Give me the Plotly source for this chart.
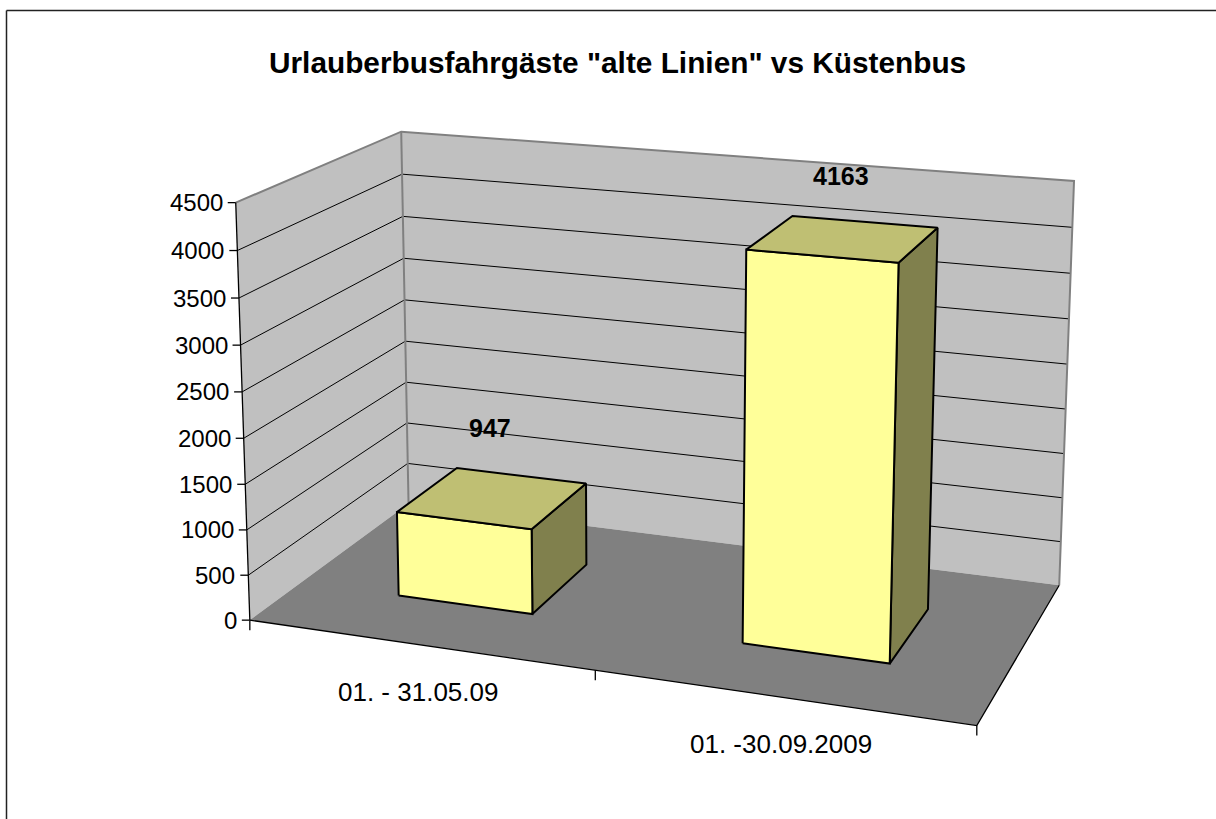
import numpy as np
import plotly.graph_objects as go

# ---------------- data ----------------
title = 'Urlauberbusfahrgäste "alte Linien" vs Küstenbus'
categories = ["01. - 31.05.09", "01. -30.09.2009"]
values = [947, 4163]
y_ticks = [0, 500, 1000, 1500, 2000, 2500, 3000, 3500, 4000, 4500]
y_max = 4500

# ---------------- style / layout ----------------
W, H = 1216, 819
FONT = "Liberation Sans, Arial, sans-serif"
WALL = "#C0C0C0"
FLOOR = "#808080"
EDGE = "#808080"
FRONT = "#FFFF99"
TOP = "#BFBF73"
SIDE = "#80804D"
GAP_WIDTH = 1.5     # Excel gap width 150 %
GAP_DEPTH = 1.5     # Excel gap depth 150 %

# camera calibration: corners of the 3-D plot box (x: category axis 0..1,
# v: value 0..1, z: depth 0 front .. 1 back) and where they appear on the page
frame_3d = np.array([
    (0, 0, 0), (0, 1, 0), (0, 0, 1), (0, 1, 1),
    (1, 0, 1), (1, 1, 1), (1, 0, 0), (0.5, 0, 0),
    (0, 8 / 9, 1), (1, 8 / 9, 1),
], dtype=float)
frame_px = np.array([
    (249, 617.7), (236, 203.3), (409, 505), (401, 132),
    (1059, 584.3), (1074.3, 180), (976.7, 725.7), (596, 672),
    (402, 173.3), (1072, 228.3),
], dtype=float)


def fit_camera(p3, p2):
    m = p2.mean(0)
    s = np.sqrt(2) / np.mean(np.linalg.norm(p2 - m, axis=1))
    T = np.array([[s, 0, -s * m[0]], [0, s, -s * m[1]], [0, 0, 1]])
    q = (p2 - m) * s
    A = []
    for (X, Y, Z), (u, v) in zip(p3, q):
        A.append([X, Y, Z, 1, 0, 0, 0, 0, -u * X, -u * Y, -u * Z, -u])
        A.append([0, 0, 0, 0, X, Y, Z, 1, -v * X, -v * Y, -v * Z, -v])
    _, _, Vt = np.linalg.svd(np.array(A))
    return np.linalg.inv(T) @ Vt[-1].reshape(3, 4)


P = fit_camera(frame_3d, frame_px)


def proj(x, val, z):
    h = P @ np.array([x, val / y_max, z, 1.0])
    return h[0] / h[2], h[1] / h[2]


def poly(pts, fill, line_color="rgba(0,0,0,0)", lw=0):
    xy = [proj(*p) for p in pts]
    xs = [a for a, _ in xy] + [xy[0][0]]
    ys = [b for _, b in xy] + [xy[0][1]]
    return go.Scatter(x=xs, y=ys, mode="lines", fill="toself", fillcolor=fill,
                      line=dict(color=line_color, width=lw),
                      hoverinfo="skip", showlegend=False)


def polyline(segments, color, lw):
    xs, ys = [], []
    for seg in segments:
        for p in seg:
            a, b = p if len(p) == 2 else proj(*p)
            xs.append(a)
            ys.append(b)
        xs.append(None)
        ys.append(None)
    return go.Scatter(x=xs, y=ys, mode="lines", line=dict(color=color, width=lw),
                      hoverinfo="skip", showlegend=False)


fig = go.Figure()

# walls
fig.add_trace(poly([(0, 0, 0), (0, 0, 1), (0, y_max, 1), (0, y_max, 0)], WALL))
fig.add_trace(poly([(0, 0, 1), (1, 0, 1), (1, y_max, 1), (0, y_max, 1)], WALL))

# gridlines
grid = []
for t in y_ticks:
    if 0 < t < y_max:
        grid.append([(0, t, 0), (0, t, 1), (1, t, 1)])
fig.add_trace(polyline(grid, "black", 1))

# wall edges
fig.add_trace(polyline([
    [(0, y_max, 0), (0, y_max, 1), (1, y_max, 1), (1, 0, 1)],
    [(0, 0, 1), (0, y_max, 1)],
], EDGE, 2))

# floor
fig.add_trace(poly([(0, 0, 0), (1, 0, 0), (1, 0, 1), (0, 0, 1)], FLOOR))
fig.add_trace(polyline([[(0, 0, 0), (1, 0, 0), (1, 0, 1)]], "black", 1.3))

# value axis + ticks
n = len(categories)
axis_segs = [[(0, 0, 0), (0, y_max, 0)]]
for t in y_ticks:
    px_, py_ = proj(0, t, 0)
    axis_segs.append([(px_, py_), (px_ - 8, py_)])
# category ticks
for k in range(n + 1):
    px_, py_ = proj(k / n, 0, 0)
    axis_segs.append([(px_, py_), (px_, py_ + 10)])
fig.add_trace(polyline(axis_segs, "black", 1.3))

# bars
cat_w = 1.0 / n
bar_w = cat_w / (1 + GAP_WIDTH)
bar_d = 1.0 / (1 + GAP_DEPTH)
z0, z1 = 0.5 - bar_d / 2, 0.5 + bar_d / 2
annotations = []
for i, v in enumerate(values):
    xc = (i + 0.5) * cat_w
    x0, x1 = xc - bar_w / 2, xc + bar_w / 2
    front = [(x0, 0, z0), (x1, 0, z0), (x1, v, z0), (x0, v, z0)]
    top = [(x0, v, z0), (x1, v, z0), (x1, v, z1), (x0, v, z1)]
    side = [(x1, 0, z0), (x1, 0, z1), (x1, v, z1), (x1, v, z0)]
    fig.add_trace(poly(side, SIDE, "black", 2))
    fig.add_trace(poly(front, FRONT, "black", 2))
    fig.add_trace(poly(top, TOP, "black", 2))
    tops = [proj(*p) for p in top]
    lx = np.mean([a for a, _ in tops]) - 3
    ly = min(b for _, b in tops) - 40
    annotations.append(dict(x=lx, y=ly, text=f"<b>{v}</b>", showarrow=False,
                            xanchor="center", yanchor="middle",
                            font=dict(family=FONT, size=25, color="black")))

# value labels
for t in y_ticks:
    px_, py_ = proj(0, t, 0)
    annotations.append(dict(x=px_ - 11, y=py_, text=str(t), showarrow=False,
                            xanchor="right", yanchor="middle",
                            font=dict(family=FONT, size=24, color="black")))
# category labels
for i, c in enumerate(categories):
    px_, py_ = proj((i + 0.5) * cat_w, 0, 0)
    annotations.append(dict(x=px_, y=py_ + 47, text=c, showarrow=False,
                            xanchor="center", yanchor="middle",
                            font=dict(family=FONT, size=26, color="black")))
# title
annotations.append(dict(x=617, y=62, text=f"<b>{title}</b>", showarrow=False,
                        xanchor="center", yanchor="middle",
                        font=dict(family=FONT, size=29.8, color="black")))

fig.update_layout(
    width=W, height=H, autosize=False,
    margin=dict(l=0, r=0, t=0, b=0, pad=0),
    paper_bgcolor="white", plot_bgcolor="white",
    xaxis=dict(range=[0, W], visible=False, fixedrange=True),
    yaxis=dict(range=[H, 0], visible=False, fixedrange=True),
    annotations=annotations,
    shapes=[
        dict(type="line", x0=6.5, y0=10.5, x1=W, y1=10.5, xref="x", yref="y",
             line=dict(color="#222222", width=1.5)),
        dict(type="line", x0=6.5, y0=10.5, x1=6.5, y1=H, xref="x", yref="y",
             line=dict(color="#222222", width=1.5)),
    ],
    showlegend=False,
)

fig.write_html("out.html", config={"staticPlot": True},
               post_script="document.body.style.margin='0';document.body.style.overflow='hidden';")
